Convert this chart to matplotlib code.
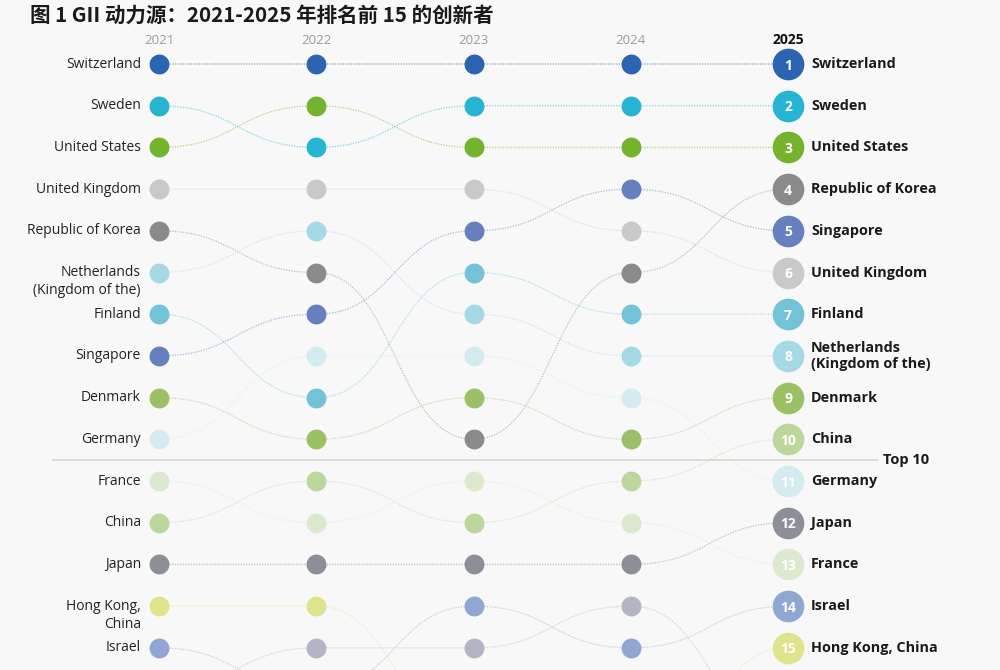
import matplotlib
matplotlib.use("Agg")
import matplotlib.pyplot as plt
from matplotlib.path import Path
from matplotlib.patches import PathPatch

# ---------------- data ----------------
years = [2021, 2022, 2023, 2024, 2025]
countries = ["Switzerland", "Sweden", "United States", "United Kingdom",
             "Republic of Korea", "Netherlands (Kingdom of the)", "Finland",
             "Singapore", "Denmark", "Germany", "France", "China", "Japan",
             "Hong Kong, China", "Israel", "Canada"]
left_labels = ["Switzerland", "Sweden", "United States", "United Kingdom",
               "Republic of Korea", "Netherlands\n(Kingdom of the)", "Finland",
               "Singapore", "Denmark", "Germany", "France", "China", "Japan",
               "Hong Kong,\nChina", "Israel", "Canada"]
right_labels = ["Switzerland", "Sweden", "United States", "United Kingdom",
                "Republic of Korea", "Netherlands\n(Kingdom of the)", "Finland",
                "Singapore", "Denmark", "Germany", "France", "China", "Japan",
                "Hong Kong, China", "Israel", "Canada"]
rank_2021 = [1, 2, 3, 4, 5, 6, 7, 8, 9, 10, 11, 12, 13, 14, 15, 16]
rank_2022 = [1, 3, 2, 4, 6, 5, 9, 7, 10, 8, 12, 11, 13, 14, 16, 15]
rank_2023 = [1, 2, 3, 4, 10, 7, 6, 5, 9, 8, 11, 12, 13, 17, 14, 15]
rank_2024 = [1, 2, 3, 5, 6, 8, 7, 4, 10, 9, 12, 11, 13, 18, 15, 14]
rank_2025 = [1, 2, 3, 6, 4, 8, 7, 5, 9, 11, 13, 10, 12, 15, 14, 17]
ranks = [rank_2021, rank_2022, rank_2023, rank_2024, rank_2025]
colors = ["#2b64b0", "#27b4d2", "#74b32c", "#c9c9c9", "#8a8a8a", "#a4d9e5",
          "#72c2d8", "#6680bf", "#9bc066", "#d3ebf1", "#dde9cf", "#bcd79b",
          "#8c8f97", "#dfe48c", "#90a7d4", "#b3b5c4"]

title = "图 1 GII 动力源：2021-2025 年排名前 15 的创新者"
top_label = "Top 10"
top_n = 10
shown = 15

# ---------------- style ----------------
bg = "#f8f8f8"
lat = "Open Sans"
PX = 0.72  # points per pixel at dpi 100

fig = plt.figure(figsize=(10, 6.7), dpi=100)
fig.patch.set_facecolor(bg)
ax = fig.add_axes([0, 0, 1, 1])
ax.set_facecolor(bg)
ax.set_xlim(2019.989, 2026.348)
ax.set_ylim(15.532, -0.535)
ax.axis("off")

# connecting curves
for ci, c in enumerate(countries):
    for yi in range(len(years) - 1):
        x0, x1 = years[yi], years[yi + 1]
        y0, y1 = ranks[yi][ci], ranks[yi + 1][ci]
        if y0 > shown and y1 > shown:
            continue
        xm = (x0 + x1) / 2
        path = Path([(x0, y0), (xm, y0), (xm, y1), (x1, y1)],
                    [Path.MOVETO, Path.CURVE4, Path.CURVE4, Path.CURVE4])
        ax.add_patch(PathPatch(path, fill=False, edgecolor=colors[ci],
                               lw=0.95, alpha=0.5, linestyle=(0, (1, 1)),
                               zorder=1))

# dots for earlier years
for yi, yr in enumerate(years[:-1]):
    for ci in range(len(countries)):
        r = ranks[yi][ci]
        if r <= shown:
            ax.scatter([yr], [r], s=205, color=colors[ci], zorder=3,
                       linewidths=0)

# final year big dots with numbers and bold labels
yr = years[-1]
for ci in range(len(countries)):
    r = ranks[-1][ci]
    if r > shown:
        continue
    ax.scatter([yr], [r], s=520, color=colors[ci], zorder=3, linewidths=0)
    ax.text(yr, r, str(r), ha="center", va="center_baseline", color="white",
            fontsize=10, fontweight="bold", family=lat, zorder=4)
    ax.annotate(right_labels[ci], (yr, r), xytext=(23 * PX, 0),
                textcoords="offset points", ha="left", va="center",
                fontsize=10.4, fontweight="bold", family=lat,
                color="#1a1a1a", linespacing=1.15)

# left labels (first year)
for ci in range(len(countries)):
    r = ranks[0][ci]
    if r > shown:
        continue
    lines = left_labels[ci].split("\n")
    for li, line in enumerate(lines):
        ax.annotate(line, (years[0], r), xytext=(-18 * PX, -li * 18 * PX),
                    textcoords="offset points", ha="right", va="center",
                    fontsize=10, family=lat, color="#222222")

# year headers
for yr in years[:-1]:
    ax.text(yr, 0.43, str(yr), ha="center", va="center", fontsize=9.5,
            family=lat, color="#9a9a9a")
ax.text(years[-1], 0.43, str(years[-1]), ha="center", va="center",
        fontsize=10, fontweight="bold", family=lat, color="#111111")

# top-10 separator
sep_y = top_n + 0.5
ax.plot([years[0] - 0.68, years[-1] + 0.57], [sep_y, sep_y], color="#d3d8cc",
        lw=1.2, zorder=0.5, solid_capstyle="butt")
ax.annotate(top_label, (years[-1] + 0.57, sep_y), xytext=(5 * PX, 0),
            textcoords="offset points", ha="left", va="center",
            fontsize=10.5, fontweight="bold", family=lat, color="#1a1a1a")

# title
fig.text(0.03, 1 - 15 / 670, title, ha="left", va="center", fontsize=14.8,
         fontweight="bold", family=["Noto Sans CJK SC", "DejaVu Sans"],
         color="#1a1a1a")

fig.savefig("out.png", dpi=100, facecolor=bg)
